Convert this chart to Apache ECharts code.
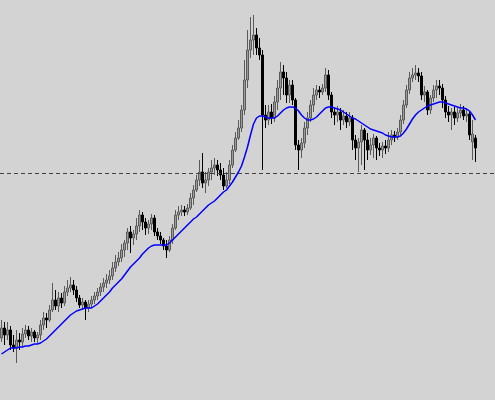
<!DOCTYPE html>
<html>
<head>
<meta charset="utf-8">
<script src="https://cdn.jsdelivr.net/npm/echarts@6/dist/echarts.min.js"></script>
<style>html,body{margin:0;padding:0;background:#d3d3d3;}#c{width:495px;height:400px;}</style>
</head>
<body>
<div id="c"></div>
<script>
const opens = [62,72,65,70,55,52,60,58,66,70,64,68,62,65,75,82,80,90,100,94,102,97,108,112,115,110,102,95,98,92,96,100,104,108,113,117,120,124,132,138,142,150,157,168,162,166,174,185,178,172,176,182,168,164,160,154,150,160,172,185,188,190,188,192,202,210,220,228,217,220,228,232,235,230,225,214,220,235,250,262,272,290,320,350,360,365,352,345,285,280,288,282,298,312,328,322,305,315,300,255,250,257,272,282,295,305,310,308,312,325,305,288,285,288,280,284,278,282,260,252,258,270,260,250,255,262,252,250,254,252,260,265,263,268,280,295,310,322,325,327,324,305,308,290,302,310,314,312,300,288,285,288,282,287,290,284,286,258,262];
const closes = [72,65,70,55,52,60,58,66,70,64,68,62,65,75,82,80,90,100,94,102,97,108,112,115,110,102,95,98,92,96,100,104,108,113,117,120,124,132,138,142,150,157,168,162,166,174,185,178,172,176,182,168,164,160,154,150,160,172,185,188,190,188,192,202,210,220,228,217,220,228,232,235,230,225,214,220,235,250,262,272,290,320,350,360,365,352,345,285,280,288,282,298,312,328,322,305,315,300,255,250,257,272,282,295,305,310,308,312,325,305,288,285,288,280,284,278,282,260,252,258,270,260,250,255,262,252,250,254,252,260,265,263,268,280,295,310,322,325,327,324,305,308,290,302,310,314,312,300,288,285,288,282,287,290,284,286,265,266,252];
const lows = [58,55,60,50,48,37,50,54,62,60,58,58,57,60,70,72,78,88,90,88,92,94,104,108,105,98,92,90,80,88,92,96,100,104,108,112,116,120,128,134,138,143,150,147,155,160,168,170,165,166,170,164,160,156,150,142,148,156,170,180,184,184,185,190,195,208,214,212,207,214,220,225,224,220,210,212,216,232,248,260,268,285,312,342,345,345,340,230,272,275,276,278,290,300,305,297,297,295,250,230,242,252,265,278,288,300,302,305,308,300,282,275,278,270,275,272,274,250,240,228,235,230,240,245,242,240,244,242,246,248,255,258,260,265,276,292,306,318,320,318,300,298,285,286,298,302,305,292,282,278,270,275,278,282,280,278,260,240,238];
const highs = [80,78,78,74,65,70,67,72,75,74,72,70,68,80,88,87,95,117,110,108,107,114,120,123,120,114,105,102,100,100,104,108,112,117,122,126,130,138,145,148,156,160,172,174,170,182,190,188,182,180,186,185,172,168,162,160,164,176,190,194,195,194,196,207,215,225,240,247,228,232,240,242,240,237,232,228,240,255,268,280,295,340,370,383,385,372,362,350,295,295,296,304,320,338,335,328,320,320,302,260,262,278,288,300,312,315,314,316,332,330,308,292,294,292,290,288,288,285,265,262,275,272,267,262,266,264,257,258,260,268,270,269,272,285,300,315,328,332,335,332,328,314,310,305,315,320,320,316,304,294,292,293,292,296,294,292,288,280,265];
const maValues = [46,48,50,52,52,52,53,53,54,54,55,56,56,57,59,61,64,67,70,73,76,79,82,85,87,89,90,91,92,92,92,94,96,99,102,105,108,112,115,118,121,125,129,133,136,139,142,146,149,152,154,155,155,155,155,155,157,160,163,166,169,172,175,178,181,183,186,189,192,195,197,199,202,205,208,210,214,218,223,228,234,243,253,265,276,282,284,284,283,282,282,282,284,287,290,292,293,293,292,289,285,282,280,280,281,283,286,289,292,293,293,292,291,290,288,286,284,282,281,279,277,275,273,271,270,269,268,267,265,264,263,263,263,264,267,271,276,281,285,288,290,292,294,295,296,297,298,298,297,296,295,294,293,292,292,291,289,285,280];
const levelLine = [227];
const emptySlots = 6;

const totalSlots = closes.length + emptySlots;
const categories = [];
for (let i = 0; i < totalSlots; i++) categories.push('P' + (i + 1));
const ohlc = categories.map((_, i) => i < closes.length ? [opens[i], closes[i], lows[i], highs[i]] : '-');
const ma = categories.map((_, i) => i < maValues.length ? maValues[i] : '-');

const chart = echarts.init(document.getElementById('c'), null, {renderer: 'canvas'});
chart.setOption({
  backgroundColor: '#d3d3d3',
  animation: false,
  grid: {left: 0, right: 0, top: 0, bottom: 0},
  xAxis: {type: 'category', data: categories, boundaryGap: true, show: false},
  yAxis: {type: 'value', min: 0, max: 400, show: false},
  series: [
    {
      type: 'candlestick',
      data: ohlc,
      barWidth: 3,
      itemStyle: {
        color: '#9c9c9c', color0: '#000000',
        borderColor: '#5a5a5a', borderColor0: '#000000', borderWidth: 1
      }
    },
    {
      type: 'line',
      data: ma,
      showSymbol: false,
      symbol: 'none',
      lineStyle: {color: '#0000ff', width: 1.5},
      markLine: {
        silent: true, symbol: 'none', animation: false,
        label: {show: false},
        lineStyle: {color: '#404040', type: [4, 3], width: 1},
        data: levelLine.map(v => ({yAxis: v}))
      }
    }
  ]
});
</script>
</body>
</html>
